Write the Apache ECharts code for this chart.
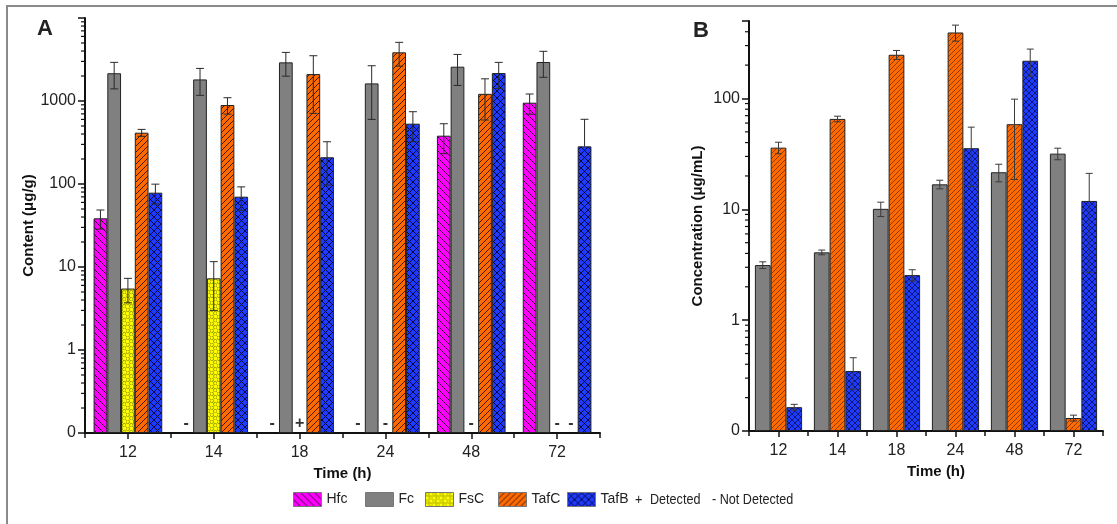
<!DOCTYPE html>
<html>
<head>
<meta charset="utf-8">
<script src="https://cdn.jsdelivr.net/npm/echarts@6/dist/echarts.min.js"></script>
<style>
  html, body { margin: 0; padding: 0; background: #fff; }
  #chart { width: 1117px; height: 524px; }
</style>
</head>
<body>
<div id="chart"></div>
<script>
// Sampling times (h)
const times = ['12', '14', '18', '24', '48', '72'];

// Panel A: content (µg/g), mean and SD; null = no bar
const hfcA = [38.6, null, null, null, 382, 954];
const hfcErrA = [10, null, null, null, 150, 260];
const fcA = [2160, 1820, 2920, 1630, 2590, 2950];
const fcErrA = [760, 650, 930, 1030, 1050, 1020];
const fscA = [5.5, 7.3, null, null, null, null];
const fscErrA = [1.8, 4.3, null, null, null, null];
const tafcA = [415, 895, 2110, 3860, 1220, null];
const tafcErrA = [40, 200, 1400, 1230, 630, null];
const tafbA = [78.6, 70.3, 210, 533, 2170, 284];
const tafbErrA = [21, 22, 113, 210, 750, 318];

// Panel A: detection marks drawn on the baseline ('+' detected, '-' not detected)
const hfcMarkA = ['', '-', '-', '-', '', ''];
const fscMarkA = ['', '', '+', '-', '-', '-'];
const tafcMarkA = ['', '', '', '', '', '-'];

// Panel B: concentration (µg/mL), mean and SD
const fcB = [3.14, 4.09, 10.1, 16.8, 21.6, 31.8];
const fcErrB = [0.22, 0.2, 1.5, 1.5, 3.9, 3.8];
const tafcB = [36.0, 65.4, 248, 394, 58.6, 0.131];
const tafcErrB = [4.3, 3.8, 23, 65, 40, 0.008];
const tafbB = [0.164, 0.348, 2.55, 35.6, 219, 11.9];
const tafbErrB = [0.01, 0.11, 0.3, 19.5, 60, 9.2];

// Log axis ranges (lowest value is shown as "0")
const yMinA = 0.1, yMaxA = 10000;
const yMinB = 0.1, yMaxB = 500;

const FONT = 'Liberation Sans, Arial, sans-serif';

// ---- fill patterns ----
function hatch(bg, dirs, step, lineColor, lw) {
  const c = document.createElement('canvas');
  c.width = step; c.height = step;
  const g = c.getContext('2d');
  g.fillStyle = bg; g.fillRect(0, 0, step, step);
  g.strokeStyle = lineColor; g.lineWidth = lw;
  g.beginPath();
  for (const off of [-step, 0, step]) {
    if (dirs.includes('\\')) { g.moveTo(off, 0); g.lineTo(off + step, step); }
    if (dirs.includes('/')) { g.moveTo(off, step); g.lineTo(off + step, 0); }
  }
  g.stroke();
  return { image: c, repeat: 'repeat' };
}
function circles(bg, step, ring) {
  const c = document.createElement('canvas');
  c.width = step; c.height = step;
  const g = c.getContext('2d');
  g.fillStyle = bg; g.fillRect(0, 0, step, step);
  g.strokeStyle = ring; g.lineWidth = 1;
  const r = step * 0.26;
  for (const [x, y] of [[step * 0.25, step * 0.25], [step * 0.75, step * 0.75]]) {
    g.beginPath(); g.arc(x, y, r, 0, Math.PI * 2); g.stroke();
  }
  return { image: c, repeat: 'repeat' };
}

const MAGENTA = '#FF00FF', GRAY = '#808080', YELLOW = '#FFFF00', ORANGE = '#FF6A00', BLUE = '#1F3BFF';
const patHfc = hatch(MAGENTA, '\\', 7, 'rgba(20,0,20,0.85)', 1);
const patFsc = circles(YELLOW, 7, '#9C9C00');
const patTafcA = hatch(ORANGE, '/', 6, 'rgba(40,10,0,0.85)', 1);
const patTafbA = hatch(BLUE, '\\/', 7, 'rgba(0,0,30,0.85)', 1);
const patTafcB = hatch(ORANGE, '/', 5, 'rgba(60,20,0,0.7)', 0.8);
const patTafbB = hatch(BLUE, '\\/', 6, 'rgba(0,0,30,0.75)', 0.8);

const BORDER = '#222';

function labelFmt(max) {
  return function (v) {
    const l = Math.log10(v);
    if (Math.abs(l - Math.round(l)) > 1e-6) return '';
    if (v >= max * 0.999) return '';
    if (Math.abs(v - 0.1) < 1e-9) return '0';
    return String(Math.round(v));
  };
}

function minorTickData(min, max) {
  const out = [];
  for (let k = Math.round(Math.log10(min)); Math.pow(10, k) < max; k++) {
    for (let m = 2; m <= 9; m++) {
      const v = m * Math.pow(10, k);
      if (v < max) out.push([0, v]);
    }
  }
  return out;
}
function minorTickRender(params, api) {
  const y = api.coord([0, api.value(1)])[1];
  const x = params.coordSys.x;
  return { type: 'line', shape: { x1: x - 4, y1: y, x2: x, y2: y },
           style: { stroke: '#111', lineWidth: 1.2 }, silent: true };
}

function errRows(seriesVals) {
  const rows = [];
  seriesVals.forEach(([vals, errs], slot) => {
    vals.forEach((v, i) => { if (v != null && errs[i] != null) rows.push([i, v, errs[i], slot]); });
  });
  return rows;
}
function errorRender(n, cap, color) {
  return function (params, api) {
    const i = api.value(0), v = api.value(1), e = api.value(2), slot = api.value(3);
    const cs = params.coordSys;
    const band = cs.width / times.length;
    const bw = band * 0.8 / n;
    const cx = api.coord([i, v])[0] + (slot - (n - 1) / 2) * bw;
    const yT = api.coord([i, v + e])[1];
    const low = v - e;
    const yB = low > 0 ? api.coord([i, low])[1] : api.coord([i, v])[1];
    const st = { stroke: color, lineWidth: 1 };
    const ch = [
      { type: 'line', shape: { x1: cx, y1: yT, x2: cx, y2: yB }, style: st },
      { type: 'line', shape: { x1: cx - cap, y1: yT, x2: cx + cap, y2: yT }, style: st }
    ];
    if (low > 0) ch.push({ type: 'line', shape: { x1: cx - cap, y1: yB, x2: cx + cap, y2: yB }, style: st });
    return { type: 'group', children: ch };
  };
}

const markRows = [];
[[hfcMarkA, 0], [fscMarkA, 2], [tafcMarkA, 3]].forEach(([marks, slot]) => {
  marks.forEach((m, i) => { if (m) markRows.push({ value: [i, yMinA, slot], mark: m }); });
});
function markRender(params, api) {
  const i = api.value(0), slot = api.value(2);
  const cs = params.coordSys;
  const bw = (cs.width / times.length) * 0.8 / 5;
  const p = api.coord([i, yMinA]);
  return { type: 'text', x: p[0] + (slot - 2) * bw, y: p[1] - 1,
           style: { text: markRows[params.dataIndex].mark, fill: '#333',
                    font: 'bold 16px ' + FONT, align: 'center', verticalAlign: 'bottom' } };
}

const axisLineStyle = { color: '#111', width: 2 };
function catAxes(gridIndex, nameOpts) {
  return [
    Object.assign({
      type: 'category', gridIndex, data: times, boundaryGap: true,
      axisLine: { lineStyle: axisLineStyle },
      axisTick: { show: true, length: 5, lineStyle: { color: '#111', width: 1.5 } },
      axisLabel: { fontSize: 16, color: '#222', fontFamily: FONT, margin: 12 },
      nameLocation: 'middle', nameGap: 31,
    }, nameOpts),
    {
      type: 'category', gridIndex, data: times, boundaryGap: true, position: 'bottom',
      axisLine: { show: false }, axisLabel: { show: false },
      axisTick: { show: true, alignWithLabel: true, length: 6, lineStyle: { color: '#111', width: 1.5 } }
    }
  ];
}
function logAxis(gridIndex, min, max, name, gap) {
  return {
    type: 'log', logBase: 10, gridIndex, min, max, startValue: min,
    splitLine: { show: false },
    axisLine: { show: true, lineStyle: axisLineStyle },
    axisTick: { show: true, length: 7, lineStyle: { color: '#111', width: 1.5 } },
    axisLabel: { fontSize: 16, color: '#222', fontFamily: FONT, margin: 9, formatter: labelFmt(max) },
    name, nameLocation: 'middle', nameGap: gap, nameRotate: 90,
    nameTextStyle: { fontSize: 15, fontWeight: 'bold', color: '#111', fontFamily: FONT }
  };
}

const timeName = { name: 'Time (h)', nameTextStyle: { fontSize: 15, fontWeight: 'bold', color: '#111', fontFamily: FONT } };

function bar(name, data, color, xAxisIndex, yAxisIndex) {
  return { type: 'bar', name, data, xAxisIndex, yAxisIndex, barGap: '0%', barCategoryGap: '20%',
           itemStyle: { color, borderColor: BORDER, borderWidth: 1 }, emphasis: { disabled: true } };
}

function legendItem(name, left) {
  return { data: [name], left, top: 492, padding: 0, icon: 'rect', itemWidth: 28, itemHeight: 14, itemGap: 0,
           textStyle: { fontSize: 14, color: '#222', fontFamily: FONT, padding: [1, 0, 0, 0] }, selectedMode: false,
           itemStyle: { borderColor: '#777', borderWidth: 1 } };
}

// legend side notes, set slightly condensed
function note(text, x) {
  return { type: 'text', x, y: 500, scaleX: 0.84, scaleY: 1,
           style: { text, font: '15px ' + FONT, fill: '#222', verticalAlign: 'middle' } };
}

const chart = echarts.init(document.getElementById('chart'), null, { renderer: 'canvas' });
chart.setOption({
  animation: false,
  backgroundColor: '#fff',
  grid: [
    { left: 85, top: 18, width: 515, height: 415 },
    { left: 749, top: 21, width: 354, height: 410 }
  ],
  xAxis: [
    ...catAxes(0, timeName),
    ...catAxes(1, Object.assign({}, timeName, { nameTextStyle: Object.assign({}, timeName.nameTextStyle, { padding: [0, 0, 0, 20] }) }))
  ],
  yAxis: [
    logAxis(0, yMinA, yMaxA, 'Content (μg/g)', 41),
    logAxis(1, yMinB, yMaxB, 'Concentration (μg/mL)', 44)
  ],
  legend: [
    legendItem('Hfc', 293), legendItem('Fc', 365), legendItem('FsC', 425),
    legendItem('TafC', 498), legendItem('TafB', 567)
  ],
  graphic: [
    { type: 'polyline', shape: { points: [[7, 530], [7, 6], [1120, 6]] }, style: { stroke: '#8a8a8a', lineWidth: 2, fill: null }, silent: true },
    { type: 'text', left: 37, top: 18, style: { text: 'A', font: 'bold 22px ' + FONT, fill: '#222' } },
    { type: 'text', left: 693, top: 20, style: { text: 'B', font: 'bold 22px ' + FONT, fill: '#222' } },
    note('+', 635),
    note('Detected', 650),
    note('- Not Detected', 712)
  ],
  series: [
    bar('Hfc', hfcA, patHfc, 0, 0),
    bar('Fc', fcA, GRAY, 0, 0),
    bar('FsC', fscA, patFsc, 0, 0),
    bar('TafC', tafcA, patTafcA, 0, 0),
    bar('TafB', tafbA, patTafbA, 0, 0),
    bar('Fc', fcB, GRAY, 2, 1),
    bar('TafC', tafcB, patTafcB, 2, 1),
    bar('TafB', tafbB, patTafbB, 2, 1),
    { type: 'custom', xAxisIndex: 0, yAxisIndex: 0, silent: true, clip: false, z: 5,
      data: errRows([[hfcA, hfcErrA], [fcA, fcErrA], [fscA, fscErrA], [tafcA, tafcErrA], [tafbA, tafbErrA]]),
      encode: { x: 0, y: 1 }, renderItem: errorRender(5, 4, '#2a2a2a') },
    { type: 'custom', xAxisIndex: 2, yAxisIndex: 1, silent: true, clip: false, z: 5,
      data: errRows([[fcB, fcErrB], [tafcB, tafcErrB], [tafbB, tafbErrB]]),
      encode: { x: 0, y: 1 }, renderItem: errorRender(3, 3.5, '#3a3a3a') },
    { type: 'custom', xAxisIndex: 0, yAxisIndex: 0, silent: true, clip: false, z: 5,
      data: markRows.map(r => r.value), encode: { x: 0, y: 1 }, renderItem: markRender },
    { type: 'custom', xAxisIndex: 0, yAxisIndex: 0, silent: true, clip: false,
      data: minorTickData(yMinA, yMaxA), encode: { x: 0, y: 1 }, renderItem: minorTickRender },
    { type: 'custom', xAxisIndex: 2, yAxisIndex: 1, silent: true, clip: false,
      data: minorTickData(yMinB, yMaxB), encode: { x: 0, y: 1 }, renderItem: minorTickRender }
  ]
});
</script>
</body>
</html>
